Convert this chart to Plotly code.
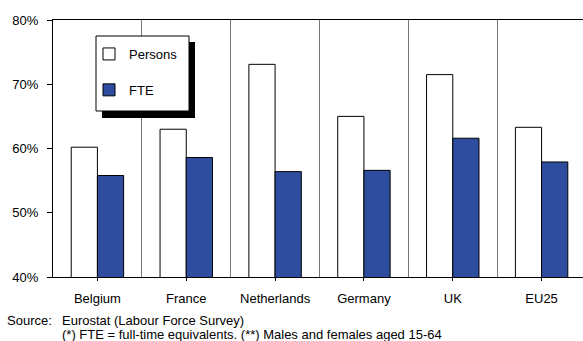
import plotly.graph_objects as go

# Employment rates, persons vs full-time equivalents
countries = ["Belgium", "France", "Netherlands", "Germany", "UK", "EU25"]
persons = [60.2, 63.0, 73.1, 65.0, 71.5, 63.3]
fte = [55.8, 58.6, 56.4, 56.6, 61.6, 57.9]
y_ticks = [40, 50, 60, 70, 80]

FONT = "Liberation Sans, Arial, sans-serif"
FS = 13
BLUE = "#2E4D9E"

W, H = 583, 341
L, T, B, R = 53, 20, 64, 0
PW, PH = W - L - R, H - T - B

def px_x(p):
    return (p - L) / PW

def px_y(p):
    return (H - B - p) / PH

pos = list(range(len(countries)))

fig = go.Figure()
fig.add_trace(go.Bar(
    x=pos, y=persons, name="Persons", legendgroup="a",
    marker=dict(color="white", line=dict(color="black", width=1)),
))
fig.add_trace(go.Bar(
    x=pos, y=fte, name="FTE", legendgroup="b",
    marker=dict(color=BLUE, line=dict(color="black", width=1)),
))

# legend frame with a drop shadow
fig.add_shape(type="rect", xref="paper", yref="paper",
              x0=px_x(102), x1=px_x(195), y0=px_y(118), y1=px_y(42),
              fillcolor="black", line=dict(width=0), layer="above")
fig.add_shape(type="rect", xref="paper", yref="paper",
              x0=px_x(96), x1=px_x(189), y0=px_y(111), y1=px_y(36),
              fillcolor="white", line=dict(color="black", width=1), layer="above")

note_font = dict(family=FONT, size=FS, color="black")
fig.add_annotation(text="Source:", xref="paper", yref="paper",
                   x=px_x(5), y=px_y(320), xanchor="left", yanchor="middle",
                   showarrow=False, font=note_font)
fig.add_annotation(text="Eurostat (Labour Force Survey)", xref="paper", yref="paper",
                   x=px_x(60), y=px_y(320), xanchor="left", yanchor="middle",
                   showarrow=False, font=note_font)
fig.add_annotation(text="(*) FTE = full-time equivalents. (**) Males and females aged 15-64",
                   xref="paper", yref="paper",
                   x=px_x(60), y=px_y(334), xanchor="left", yanchor="middle",
                   showarrow=False, font=note_font)

fig.update_layout(
    width=W, height=H,
    margin=dict(l=L, r=R, t=T, b=B),
    paper_bgcolor="white", plot_bgcolor="white",
    barmode="group", bargap=0.41, bargroupgap=0,
    font=dict(family=FONT, size=FS, color="black"),
    showlegend=True,
    legend=dict(
        x=px_x(89), y=px_y(39), xanchor="left", yanchor="top",
        bgcolor="rgba(0,0,0,0)", borderwidth=0,
        traceorder="grouped", tracegroupgap=16,
        font=dict(family=FONT, size=FS, color="black"),
    ),
    xaxis=dict(
        range=[-0.5, 5.466],
        tickmode="array", tickvals=pos, ticktext=countries,
        showgrid=False, zeroline=False,
        showline=True, linecolor="black", linewidth=1, mirror=True,
        ticks="outside", ticklen=3, tickcolor="black",
        ticklabelstandoff=6,
        minor=dict(tick0=0.5, dtick=1, showgrid=True, gridcolor="#777777", gridwidth=1, ticks=""),
    ),
    yaxis=dict(
        range=[40, 80],
        tickmode="array", tickvals=y_ticks, ticktext=[f"{v}%" for v in y_ticks],
        showgrid=False, zeroline=False,
        showline=True, linecolor="black", linewidth=1,
        ticks="outside", ticklen=5, tickcolor="black",
        ticklabelstandoff=6,
    ),
)

fig.write_html("out.html")
